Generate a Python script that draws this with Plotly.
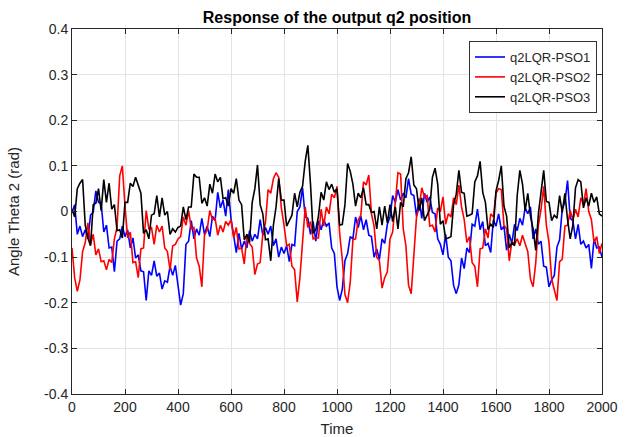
import plotly.graph_objects as go

time = list(range(0, 2001, 10))

pso1 = [
-0.002, 0.015, -0.05, -0.032, -0.055, -0.04, -0.06, -0.008, -0.002, 0.045,
0.02, 0.018, -0.045, -0.03, -0.08, -0.078, -0.132, -0.065, -0.06, -0.032,
-0.055, -0.04, -0.08, -0.058, -0.102, -0.095, -0.13, -0.132, -0.195, -0.13,
-0.14, -0.108, -0.142, -0.135, -0.17, -0.152, -0.155, -0.12, -0.14, -0.118,
-0.162, -0.205, -0.18, -0.072, -0.065, -0.02, -0.06, -0.038, -0.052, -0.015,
-0.05, -0.032, -0.055, -0.01, -0.02, 0.042, 0.008, 0.025, -0.01, 0.048,
-0.015, -0.05, -0.09, -0.048, -0.082, -0.065, -0.08, -0.042, -0.065, -0.05,
-0.06, -0.018, -0.052, -0.035, -0.05, -0.032, -0.075, -0.06, -0.1, -0.078,
-0.092, -0.075, -0.11, -0.072, -0.075, 0.0, 0.01, 0.052, -0.012, -0.015,
-0.05, -0.022, -0.065, -0.02, -0.04, -0.018, -0.032, -0.025, -0.08, -0.092,
-0.165, -0.195, -0.17, -0.108, -0.092, -0.055, -0.06, -0.012, -0.035, -0.01,
-0.04, -0.018, -0.052, -0.055, -0.1, -0.082, -0.105, -0.06, -0.07, -0.028,
-0.012, 0.035, 0.02, 0.048, 0.025, 0.04, 0.03, 0.072, 0.038, 0.035,
-0.01, 0.028, -0.015, 0.04, 0.02, 0.032, -0.002, -0.005, -0.06, -0.072,
-0.095, -0.05, -0.1, -0.108, -0.162, -0.18, -0.16, -0.102, -0.125, -0.08,
-0.09, -0.028, -0.032, 0.005, -0.04, -0.022, -0.075, -0.07, -0.09, -0.018,
-0.032, -0.005, -0.04, -0.032, -0.085, -0.05, -0.07, -0.028, -0.042, -0.015,
-0.03, 0.008, -0.005, 0.01, -0.06, -0.038, -0.072, -0.065, -0.12, -0.122,
-0.165, -0.15, -0.14, -0.078, -0.062, 0.005, 0.02, 0.068, -0.015, -0.02,
-0.06, -0.028, -0.072, -0.065, -0.08, -0.072, -0.125, -0.06, -0.08, -0.078,
-0.1,
]

pso2 = [
-0.08, -0.145, -0.175, -0.15, -0.088, -0.068, -0.025, -0.072, -0.05, -0.095,
-0.082, -0.11, -0.108, -0.128, -0.105, -0.112, -0.06, -0.035, 0.078, 0.1,
0.012, -0.058, -0.045, -0.112, -0.11, -0.145, -0.082, -0.08, 0.002, -0.038,
-0.035, -0.072, -0.03, -0.045, -0.032, -0.08, -0.088, -0.128, -0.075, -0.072,
-0.06, -0.055, -0.012, -0.03, 0.002, -0.038, -0.035, -0.102, -0.12, -0.165,
-0.052, -0.04, 0.002, -0.018, -0.015, -0.052, -0.03, -0.045, -0.022, -0.03,
-0.018, -0.058, -0.035, -0.082, -0.08, -0.115, -0.052, -0.07, -0.078, -0.138,
-0.115, -0.112, -0.05, -0.025, 0.048, 0.04, 0.072, 0.085, 0.075, 0.008,
-0.03, -0.075, -0.072, -0.12, -0.128, -0.198, -0.145, -0.062, 0.01, -0.035,
-0.022, -0.06, -0.058, -0.058, 0.005, -0.032, 0.01, -0.005, 0.038, 0.03,
0.055, -0.048, -0.105, -0.182, -0.2, -0.155, -0.062, -0.06, -0.018, -0.008,
0.065, 0.058, 0.08, -0.005, -0.032, -0.1, -0.108, -0.168, -0.145, -0.132,
-0.06, -0.045, 0.018, 0.085, 0.082, -0.038, -0.075, -0.162, -0.18, -0.095,
-0.012, 0.01, 0.052, 0.032, 0.035, -0.032, -0.03, -0.045, 0.008, 0.0,
0.032, -0.028, -0.005, -0.012, 0.03, 0.015, 0.058, 0.01, -0.018, -0.068,
-0.055, -0.112, -0.12, -0.165, -0.082, -0.08, -0.038, -0.058, -0.005, -0.012,
0.04, 0.05, 0.048, -0.03, -0.038, -0.108, -0.065, -0.072, -0.06, -0.075,
-0.052, -0.07, -0.088, -0.148, -0.165, -0.112, -0.03, 0.005, 0.055, -0.03,
-0.068, -0.148, -0.17, -0.195, -0.11, -0.105, -0.032, -0.03, 0.002, -0.018,
0.005, -0.012, 0.03, 0.015, 0.05, 0.0, -0.018, -0.068, -0.055, -0.092,
-0.07,
]

pso3 = [
0.005, -0.012, 0.05, 0.062, 0.07, -0.03, -0.058, -0.075, 0.015, 0.018,
0.05, 0.002, 0.07, 0.02, 0.062, 0.005, 0.015, -0.042, -0.04, -0.058,
0.02, 0.02, 0.062, 0.055, 0.075, 0.058, 0.04, -0.048, -0.04, -0.06,
-0.008, -0.005, 0.035, -0.012, 0.03, -0.008, 0.0, -0.05, -0.038, -0.045,
-0.035, -0.032, 0.01, -0.018, 0.01, 0.01, 0.082, 0.075, 0.075, 0.018,
0.03, 0.012, 0.06, 0.04, 0.082, 0.065, 0.075, 0.028, 0.03, 0.012,
0.05, 0.04, 0.072, 0.025, 0.015, -0.062, -0.05, -0.068, 0.02, 0.05,
0.102, 0.015, -0.005, -0.062, -0.06, -0.108, -0.03, 0.01, 0.072, 0.025,
0.025, -0.032, -0.02, -0.008, 0.04, 0.01, 0.042, 0.055, 0.11, 0.145,
0.06, -0.048, -0.04, -0.01, 0.042, 0.025, 0.065, 0.048, 0.06, 0.042,
0.05, -0.03, -0.028, 0.015, 0.105, 0.088, 0.06, 0.012, 0.04, 0.03,
0.052, 0.015, 0.015, -0.002, 0.0, -0.038, 0.01, -0.03, 0.012, -0.025,
0.015, -0.022, 0.01, -0.038, 0.02, 0.01, 0.072, 0.085, 0.12, 0.058,
0.05, 0.002, 0.03, -0.02, -0.008, 0.005, 0.075, 0.095, 0.06, -0.028,
-0.02, -0.06, -0.058, -0.055, 0.015, 0.038, 0.09, 0.042, 0.04, -0.01,
-0.008, -0.005, 0.065, 0.078, 0.11, 0.042, 0.02, -0.04, -0.028, -0.035,
0.045, 0.068, 0.1, 0.012, -0.01, -0.08, -0.068, -0.075, 0.035, 0.09,
0.06, 0.002, 0.04, -0.01, -0.038, -0.085, -0.005, 0.038, 0.09, 0.022,
0.02, -0.02, -0.008, -0.015, 0.035, -0.002, 0.04, -0.018, -0.06, -0.03,
0.052, 0.07, 0.065, 0.008, 0.03, 0.012, 0.04, 0.02, 0.032, -0.005,
-0.01,
]

names = ["q2LQR-PSO1", "q2LQR-PSO2", "q2LQR-PSO3"]
colors = ["#0000ff", "#ff0000", "#000000"]

x_ticks = list(range(0, 2001, 200))
y_ticks = [0.4, 0.3, 0.2, 0.1, 0, -0.1, -0.2, -0.3, -0.4]
y_tick_labels = ["0.4", "0.3", "0.2", "0.1", "0", "-0.1", "-0.2", "-0.3", "-0.4"]

FONT = "Liberation Sans, Arial, sans-serif"

fig = go.Figure()
for name, ys, c in zip(names, [pso1, pso2, pso3], colors):
    fig.add_trace(go.Scatter(x=time, y=ys, mode="lines", name=name,
                             line=dict(color=c, width=1.6)))

axis_common = dict(
    showgrid=True, gridcolor="#e3e3e3", gridwidth=1,
    showline=True, linecolor="#262626", linewidth=1, mirror="ticks",
    ticks="inside", ticklen=5, tickcolor="#262626",
    tickfont=dict(family=FONT, size=14, color="#262626"),
    zeroline=False, automargin=False,
)

fig.update_layout(
    width=630, height=437,
    margin=dict(l=72, r=28, t=29, b=43),
    paper_bgcolor="white", plot_bgcolor="white",
    font=dict(family=FONT, color="#262626"),
    title=dict(text="<b>Response of the output q2 position</b>",
               x=0.5, xref="paper", xanchor="center",
               y=1 - 17 / 437, yref="container", yanchor="middle",
               font=dict(family=FONT, size=16, color="black")),
    xaxis=dict(range=[0, 2000], tickvals=x_ticks,
               title=dict(text="Time", font=dict(family=FONT, size=15, color="#262626"), standoff=12),
               **axis_common),
    yaxis=dict(range=[-0.4, 0.4], tickvals=y_ticks, ticktext=y_tick_labels,
               title=dict(text="Angle Theta 2 (rad)", font=dict(family=FONT, size=15, color="#262626"), standoff=20),
               **axis_common),
    legend=dict(x=0.9906, y=0.967, xanchor="right", yanchor="top",
                bgcolor="white", bordercolor="#333333", borderwidth=1,
                font=dict(family=FONT, size=13, color="#262626"), tracegroupgap=0),
    showlegend=True,
)

fig.write_html("out.html")
